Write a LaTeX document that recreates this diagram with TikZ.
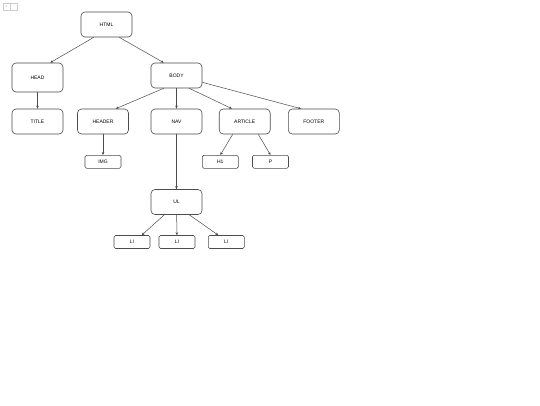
\documentclass[tikz,border=0pt]{standalone}
\usepackage{fontspec}
\setmainfont{Liberation Sans}
\usetikzlibrary{arrows.meta}
\tikzset{
	box/.style={draw=gray!60!black, line width=0.6pt, rounded corners=4pt, minimum width=51pt, minimum height=25pt, inner sep=0pt, font=\fontsize{5}{6}\selectfont},
	leaf/.style={box, rounded corners=1.5pt, minimum width=36pt, minimum height=13pt},
	tool/.style={draw=gray!40, line width=0.4pt, minimum width=7pt, minimum height=7pt, inner sep=0pt, font=\fontsize{3}{3}\selectfont, text=gray},
	edge/.style={draw=gray!60!black, line width=0.5pt, -{Stealth[length=3pt,width=2.6pt]}}
}
\begin{document}
\begin{tikzpicture}[x=1pt, y=-1pt]
		% Rahmen
		\useasboundingbox[fill=white] (0,0) rectangle (540,405);
		% Zoom-Knoepfe
		\node[tool] (zin) at (6.4,6.5) {+};
		\node[tool] (zout) at (14,6.5) {-};
		% Knoten
		\node[box] (html) at (106.5,24.5) {HTML};
		\node[box, minimum height=29pt] (head) at (37.5,77.5) {HEAD};
		\node[box] (body) at (176.5,75.5) {BODY};
		\node[box] (title) at (37.5,121.5) {TITLE};
		\node[box] (header) at (103,121.5) {HEADER};
		\node[box] (nav) at (176.5,121.5) {NAV};
		\node[box] (article) at (244.7,121.5) {ARTICLE};
		\node[box] (footer) at (313.8,121.5) {FOOTER};
		\node[leaf] (img) at (103,161.8) {IMG};
		\node[leaf] (h1) at (220.3,161.8) {H1};
		\node[leaf] (p) at (270.5,161.8) {P};
		\node[box] (ul) at (176.5,202) {UL};
		\node[leaf] (li1) at (132,242) {LI};
		\node[leaf] (li2) at (177,242) {LI};
		\node[leaf] (li3) at (226.3,242) {LI};
		% Kanten
		\draw[edge] ([xshift=-12.75pt]html.south) -- ([xshift=12.75pt]head.north);
		\draw[edge] ([xshift=12.75pt]html.south) -- ([xshift=-12.75pt]body.north);
		\draw[edge] (head) -- (title);
		\draw[edge] ([xshift=-12.75pt]body.south) -- ([xshift=12.75pt]header.north);
		\draw[edge] (body) -- (nav);
		\draw[edge] ([xshift=12.75pt]body.south) -- ([xshift=-12.75pt]article.north);
		\draw[edge] ([yshift=-6.8pt]body.east) -- ([xshift=-12.75pt]footer.north);
		\draw[edge] (header) -- (img);
		\draw[edge] ([xshift=-12pt]article.south) -- (h1.north);
		\draw[edge] ([xshift=13.6pt]article.south) -- (p.north);
		\draw[edge] (nav) -- (ul);
		\draw[edge] ([xshift=-12.2pt]ul.south) -- ([xshift=9.7pt]li1.north);
		\draw[edge] (ul) -- (li2);
		\draw[edge] ([xshift=12.8pt]ul.south) -- ([xshift=-8pt]li3.north);
\end{tikzpicture}
\end{document}
